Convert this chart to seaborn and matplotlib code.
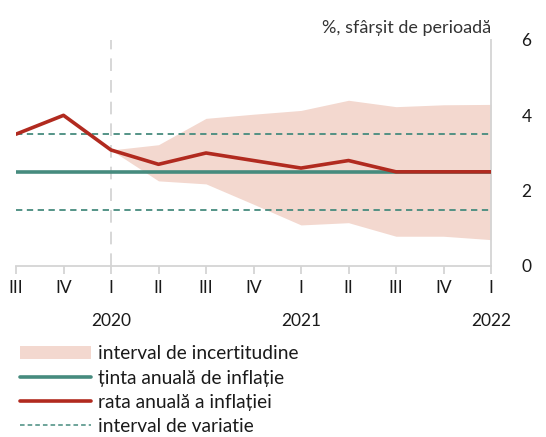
import matplotlib
matplotlib.use("Agg")
import matplotlib.pyplot as plt
import matplotlib.transforms as mtransforms
from matplotlib.patches import Patch
from matplotlib.lines import Line2D
import seaborn as sns
import pandas as pd
import numpy as np

sns.set_theme(style="white")
plt.rcParams["font.family"] = ["Lato", "DejaVu Sans"]

# Quarters from III 2019 to I 2022
quarters = ["III", "IV", "I", "II", "III", "IV", "I", "II", "III", "IV", "I"]
years = {2: "2020", 6: "2021", 10: "2022"}

# Annual inflation rate (%, end of period)
inflation = [3.5, 4.0, 3.08, 2.7, 3.0, 2.8, 2.6, 2.8, 2.5, 2.5, 2.5]
# Annual inflation target and variation band
target = [2.5] * 11
band_upper = [3.5] * 11
band_lower = [1.5] * 11
# Uncertainty interval, from I 2020 onward
unc_start = 2
unc_upper = [3.08, 3.22, 3.92, 4.03, 4.13, 4.40, 4.23, 4.28, 4.29]
unc_lower = [3.08, 2.26, 2.18, 1.64, 1.09, 1.15, 0.79, 0.79, 0.70]

yticks = [0, 2, 4, 6]

band_color = "#f3d8cf"
teal = "#468b7e"
red = "#b12a1f"
grid_gray = "#d4d4d4"
text_color = "#1a1a1a"

df = pd.DataFrame({"x": np.arange(len(quarters)), "inflation": inflation,
                   "target": target, "upper": band_upper, "lower": band_lower})

fig = plt.figure(figsize=(5.46, 4.37), dpi=100)
ax = fig.add_axes([16 / 546, 1 - 266 / 437, (491 - 16) / 546, (266 - 40) / 437])

ux = np.arange(unc_start, unc_start + len(unc_upper))
ax.fill_between(ux, unc_lower, unc_upper, color=band_color, linewidth=0, zorder=1)

ax.axvline(2, color=grid_gray, lw=1.3, dashes=(7, 5), zorder=1.5)

sns.lineplot(data=df, x="x", y="upper", ax=ax, color=teal, lw=1.3,
             linestyle=(0, (3.5, 2.5)), zorder=2)
sns.lineplot(data=df, x="x", y="lower", ax=ax, color=teal, lw=1.3,
             linestyle=(0, (3.5, 2.5)), zorder=2)
sns.lineplot(data=df, x="x", y="target", ax=ax, color=teal, lw=2.6, zorder=3)
sns.lineplot(data=df, x="x", y="inflation", ax=ax, color=red, lw=2.6, zorder=4)

ax.set_xlim(0, len(quarters) - 1)
ax.set_ylim(0, 6)
ax.set_xlabel("")
ax.set_ylabel("")

for s in ["left", "top"]:
    ax.spines[s].set_visible(False)
for s in ["bottom", "right"]:
    ax.spines[s].set_color(grid_gray)
    ax.spines[s].set_linewidth(1.3)

ax.set_xticks(np.arange(len(quarters)))
ax.set_xticklabels(quarters, fontsize=12.5, color=text_color)
ax.tick_params(axis="x", length=6, width=1.3, color=grid_gray, pad=4, bottom=True)

ax.yaxis.tick_right()
ax.set_yticks(yticks)
ax.set_yticklabels([str(v) for v in yticks], fontsize=12.5, color=text_color)
ax.tick_params(axis="y", length=0, pad=22, right=True)

trans = mtransforms.blended_transform_factory(ax.transData, ax.transAxes)
for xi, label in years.items():
    ax.text(xi, -0.245, label, transform=trans, ha="center", va="center",
            fontsize=12.5, color=text_color)

ax.text(1.0, 1.053, "%, sfârșit de perioadă", transform=ax.transAxes,
        ha="right", va="center", fontsize=13, color="#333333")

handles = [
    Patch(facecolor=band_color, edgecolor="none"),
    Line2D([], [], color=teal, lw=2.6),
    Line2D([], [], color=red, lw=2.6),
    Line2D([], [], color=teal, lw=1.1, linestyle=(0, (3, 2))),
]
labels = ["interval de incertitudine", "ținta anuală de inflație",
          "rata anuală a inflației", "interval de variatie"]
fig.legend(handles, labels, loc="lower left", bbox_to_anchor=(0.015, -0.022),
           frameon=False, fontsize=13.8, handlelength=3.7, handleheight=0.7,
           handletextpad=0.4, labelspacing=0.38, borderaxespad=0.2,
           labelcolor=text_color)

fig.savefig("out.png", dpi=100)
